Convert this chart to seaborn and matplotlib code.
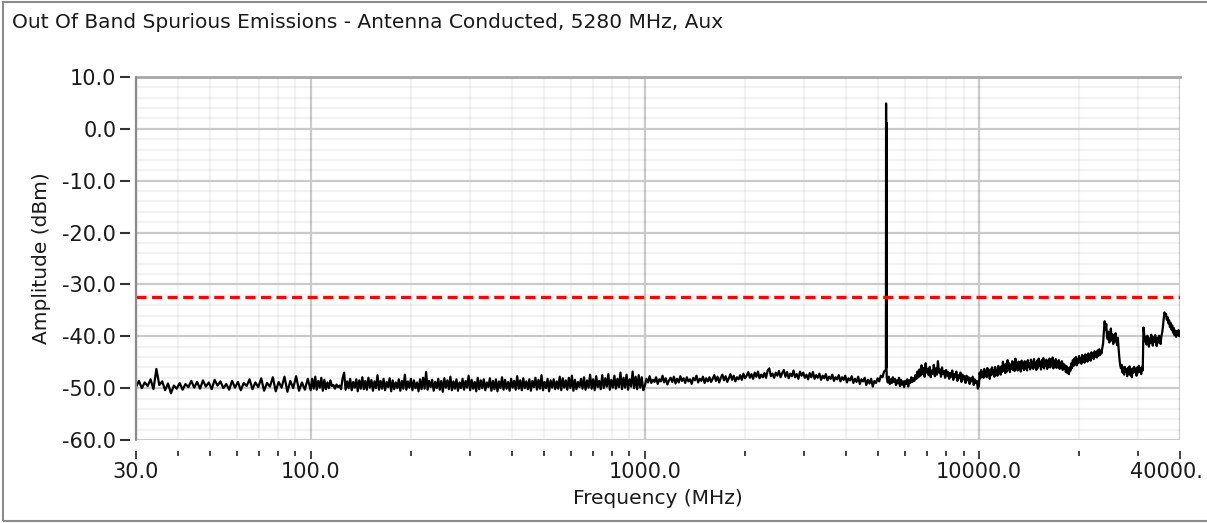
import numpy as np
import pandas as pd
import matplotlib
matplotlib.use("Agg")
import matplotlib.pyplot as plt
import seaborn as sns
from matplotlib.ticker import FixedLocator, FuncFormatter, NullFormatter
from matplotlib.patches import Rectangle
from matplotlib.transforms import ScaledTranslation

# ---- measured trace, split by sweep segment (amplitudes in dBm) ----
amp_30_100 = [
    -49.8, -48.6, -50.0, -48.9, -49.6, -48.3, -50.2, -46.3, -49.4, -48.7,
    -50.4, -49.1, -51.0, -49.5, -50.1, -49.0, -50.3, -49.2, -49.8, -48.6,
    -49.9, -48.8, -50.1, -48.5, -49.7, -48.9, -50.2, -48.4, -49.5, -48.7,
    -50.0, -49.2, -50.3, -48.6, -49.9, -48.8, -50.4, -49.0, -49.6, -48.3,
    -50.2, -48.9, -49.8, -48.1, -50.5, -49.0, -49.7, -47.9, -50.6, -48.8,
    -49.9, -47.8, -50.7, -48.6, -50.0, -47.7, -50.5, -48.9, -50.3, -48.2,
]
amp_100_1000 = [
    -50.4, -48.2, -50.1, -47.8, -50.3, -48.6, -49.9, -48.0, -50.5, -48.4,
    -50.2, -48.9, -50.0, -48.5, -49.6, -49.4, -50.1, -49.3, -49.8, -49.5,
    -50.2, -48.1, -47.0, -50.3, -48.7, -50.0, -48.2, -50.4, -48.8, -49.9,
    -48.3, -50.6, -48.5, -50.1, -47.9, -50.2, -48.6, -50.3, -48.0, -49.9,
    -48.4, -50.5, -48.7, -50.0, -47.5, -50.3, -48.6, -50.1, -48.2, -50.4,
    -48.8, -49.8, -48.1, -50.6, -48.5, -50.2, -48.9, -50.0, -48.3, -50.5,
    -48.6, -50.1, -47.4, -50.3, -48.7, -49.9, -48.2, -50.4, -48.5, -50.0,
    -48.9, -50.6, -48.3, -50.2, -48.0, -50.1, -46.9, -50.3, -48.6, -49.8,
    -48.4, -50.5, -48.8, -50.0, -48.2, -50.3, -48.6, -50.7, -48.1, -49.9,
    -48.5, -50.2, -47.8, -50.4, -48.7, -50.1, -48.3, -50.5, -48.9, -50.0,
    -48.2, -50.3, -48.6, -49.9, -47.6, -50.4, -48.4, -50.1, -48.8, -50.6,
    -48.0, -50.2, -48.5, -50.0, -48.3, -50.4, -48.9, -49.8, -48.1, -50.5,
    -48.6, -50.2, -48.3, -50.6, -48.7, -50.0, -47.9, -50.3, -48.4, -50.1,
    -48.8, -50.5, -48.2, -49.9, -48.6, -50.3, -47.7, -50.1, -48.5, -50.4,
    -48.1, -50.0, -48.7, -50.2, -48.3, -50.5, -48.6, -49.8, -48.0, -50.3,
    -48.4, -50.1, -47.5, -50.4, -48.8, -50.0, -48.2, -50.6, -48.5, -49.9,
    -48.3, -50.2, -48.7, -50.1, -47.8, -50.4, -48.1, -49.9, -48.5, -50.3,
    -48.0, -50.0, -47.6, -50.5, -48.4, -50.2, -48.8, -49.8, -48.2, -50.1,
    -47.9, -50.3, -48.5, -49.9, -47.4, -50.1, -48.3, -50.4, -47.7, -49.8,
    -48.6, -50.2, -47.5, -50.0, -48.1, -49.7, -47.3, -50.3, -48.4, -49.9,
    -47.6, -50.1, -48.2, -49.8, -47.0, -50.2, -48.0, -49.9, -47.4, -50.3,
    -48.3, -49.7, -46.8, -50.0, -47.8, -50.2, -47.5, -49.9, -47.9, -50.4,
]
amp_1000_5260 = [
    -49.6, -48.2, -48.9, -47.7, -49.0, -48.4, -48.8, -47.9, -49.2, -48.3,
    -48.7, -47.6, -48.9, -48.1, -49.3, -48.5, -48.0, -48.8, -47.8, -49.1,
    -48.2, -48.9, -47.7, -48.6, -48.1, -49.0, -47.9, -48.7, -48.3, -49.2,
    -48.0, -48.5, -47.6, -48.9, -48.2, -48.6, -47.8, -49.0, -48.1, -48.7,
    -47.9, -48.8, -48.2, -47.5, -48.6, -47.8, -48.9, -48.0, -47.4, -48.5,
    -47.7, -48.8, -48.1, -47.3, -48.4, -47.6, -48.7, -47.9, -48.3, -47.5,
    -48.4, -47.2, -48.1, -47.6, -46.9, -48.0, -47.3, -48.2, -47.0, -47.8,
    -46.8, -48.1, -47.4, -47.9, -47.1, -48.0, -46.6, -46.2, -47.7, -47.2,
    -48.0, -47.0, -47.6, -46.7, -47.9, -47.1, -46.5, -47.8, -46.9, -48.1,
    -47.2, -47.7, -46.6, -47.9, -47.3, -48.2, -46.8, -47.6, -47.0, -48.0,
    -47.4, -48.3, -47.1, -47.9, -46.9, -48.2, -47.5, -48.0, -47.2, -48.4,
    -47.6, -48.1, -47.3, -48.5, -47.8, -48.2, -47.4, -48.6, -47.9, -48.3,
    -47.5, -48.7, -47.9, -48.4, -47.6, -48.9, -48.1, -48.5, -47.7, -49.0,
    -48.2, -48.8, -47.8, -49.2, -48.3, -48.7, -48.0, -49.4, -48.4, -49.1,
    -48.2, -49.7, -48.6, -49.0, -48.1, -48.7, -47.6, -47.9, -46.8, -46.5,
]
carrier_freqs = [5270, 5276, 5279, 5282, 5285, 5288, 5292, 5298]
carrier_amps = [-46.4, 4.9, -46.0, 1.2, -46.0, 1.2, -46.5, -47.0]
amp_5300_10000 = [
    -48.0, -48.9, -47.8, -49.2, -48.3, -49.0, -47.9, -48.8, -48.2, -49.4,
    -48.5, -49.1, -48.0, -49.6, -48.4, -49.3, -48.7, -49.8, -48.6, -49.2,
    -48.3, -49.7, -48.5, -49.0, -47.9, -48.8, -48.1, -48.6, -47.5, -48.2,
    -46.8, -47.9, -46.4, -47.6, -45.6, -47.3, -46.1, -47.8, -45.2, -47.0,
    -46.3, -47.5, -45.9, -47.9, -46.6, -47.2, -45.5, -47.7, -46.2, -47.4,
    -44.8, -47.0, -46.4, -47.8, -46.0, -47.3, -46.7, -48.0, -46.5, -47.6,
    -46.9, -48.2, -47.1, -47.8, -46.6, -48.4, -47.3, -47.9, -46.8, -48.6,
    -47.5, -48.1, -47.0, -48.8, -47.4, -48.3, -47.7, -49.0, -47.6, -48.5,
    -47.9, -49.2, -48.1, -48.7, -47.8, -49.4, -48.3, -49.0, -48.6, -50.1,
]
amp_10000_40000 = [
    -49.7, -47.0, -48.1, -46.5, -47.8, -46.9, -48.0, -46.3, -47.6, -46.8,
    -47.9, -46.1, -47.4, -46.7, -48.2, -46.4, -47.5, -46.0, -47.3, -46.6,
    -47.8, -45.9, -47.2, -46.5, -47.6, -45.7, -47.0, -46.3, -47.4, -45.8,
    -46.9, -44.9, -46.6, -45.5, -47.1, -45.3, -46.8, -44.6, -46.4, -45.2,
    -46.9, -45.6, -46.2, -44.8, -46.5, -45.1, -46.7, -44.3, -46.0, -45.4,
    -46.6, -44.9, -46.3, -45.0, -46.8, -44.7, -46.1, -45.3, -46.5, -44.8,
    -46.2, -45.0, -46.6, -44.6, -45.9, -45.2, -46.4, -44.5, -46.0, -44.9,
    -46.3, -44.4, -45.8, -45.1, -46.5, -44.7, -46.1, -44.3, -45.7, -45.0,
    -46.4, -44.6, -45.9, -44.2, -46.2, -44.8, -45.6, -44.5, -46.3, -44.9,
    -45.8, -44.3, -46.0, -44.7, -45.5, -44.1, -46.2, -44.8, -45.7, -44.4,
    -46.1, -44.9, -45.8, -44.6, -46.3, -45.1, -46.0, -44.8, -46.5, -45.3,
    -46.2, -45.6, -46.9, -45.8, -47.1, -46.2, -47.3, -46.0, -46.6, -45.2,
    -46.1, -44.6, -45.7, -44.3, -45.4, -44.0, -45.6, -44.4, -45.2, -43.8,
    -45.0, -44.2, -45.3, -43.6, -44.8, -43.9, -45.1, -43.5, -44.6, -43.7,
    -44.9, -43.3, -44.5, -43.6, -44.7, -43.1, -44.2, -43.4, -44.4, -42.9,
    -43.9, -43.2, -44.1, -42.7, -43.8, -42.5, -43.6, -42.8, -43.3, -42.2,
    -41.4, -39.0, -37.1, -38.8, -37.6, -39.9, -40.6, -39.1, -41.2, -40.0,
    -38.5, -40.8, -39.6, -41.5, -40.2, -41.0, -39.4, -40.9, -41.7, -40.3,
    -42.5, -44.3, -45.6, -46.2, -45.5, -47.0, -46.0, -47.4, -45.9, -46.8,
    -46.3, -47.7, -46.1, -47.2, -45.8, -47.5, -46.4, -47.9, -46.2, -47.1,
    -45.9, -46.8, -46.3, -47.6, -46.0, -47.0, -45.7, -46.9, -46.2, -47.3,
    -45.9, -46.6, -38.3, -39.8, -41.0, -40.1, -41.6, -39.9, -40.7, -42.0,
    -40.4, -41.3, -39.7, -40.9, -41.8, -40.2, -41.1, -39.8, -40.6, -41.9,
    -40.3, -41.2, -39.9, -40.8, -41.5, -40.0, -39.3, -38.2, -36.6, -35.4,
    -36.1, -35.7, -36.8, -36.3, -37.5, -36.9, -38.2, -37.4, -38.7, -37.9,
    -39.3, -38.4, -39.8, -38.9, -40.1, -39.0, -39.7, -38.8, -40.0, -39.4,
]

limit_dbm = -32.4

title = "Out Of Band Spurious Emissions - Antenna Conducted, 5280 MHz, Aux"
x_label = "Frequency (MHz)"
y_label = "Amplitude (dBm)"

x_major = [30, 100, 1000, 10000, 40000]
x_major_labels = ["30.0", "100.0", "1000.0", "10000.0", "40000."]
x_minor = [40, 50, 60, 70, 80, 90,
           200, 300, 400, 500, 600, 700, 800, 900,
           2000, 3000, 4000, 5000, 6000, 7000, 8000, 9000,
           20000, 30000]
y_major = [10, 0, -10, -20, -30, -40, -50, -60]

# ---- assemble the sweep: log-spaced frequency bins per segment ----
freq_parts, amp_parts = [], []
for lo, hi, vals, end in [(30, 100, amp_30_100, False),
                          (100, 1000, amp_100_1000, False),
                          (1000, 5262, amp_1000_5260, True)]:
    freq_parts.append(np.geomspace(lo, hi, len(vals), endpoint=end))
    amp_parts.append(np.asarray(vals))
freq_parts.append(np.asarray(carrier_freqs, dtype=float))
amp_parts.append(np.asarray(carrier_amps))
for lo, hi, vals, end in [(5300, 10000, amp_5300_10000, False),
                          (10000, 40000, amp_10000_40000, True)]:
    freq_parts.append(np.geomspace(lo, hi, len(vals), endpoint=end))
    amp_parts.append(np.asarray(vals))

trace = pd.DataFrame({
    x_label: np.concatenate(freq_parts),
    y_label: np.concatenate(amp_parts),
})

# ---- styling ----
sns.set_theme(style="white")
plt.rcParams["font.family"] = ["DejaVu Sans"]
plt.rcParams["lines.scale_dashes"] = False
FS_TICK = 15
FS_LABEL = 14.5
TXT = "#1a1a1a"

W, H = 1207, 523
fig = plt.figure(figsize=(W / 100, H / 100), dpi=100)
fig.patch.set_facecolor("white")
ax = fig.add_axes([136 / W, 1 - 440 / H, (1180 - 136) / W, (440 - 77) / H])
ax.set_facecolor("white")
ax.set_xscale("log")

sns.lineplot(data=trace, x=x_label, y=y_label, ax=ax, color="black",
             linewidth=1.6, estimator=None, sort=False, zorder=3)
ax.axhline(limit_dbm, color="#ff0000", linewidth=2.3, dashes=(7.2, 4.0),
           zorder=4)

ax.set_xlim(30, 40000)
ax.set_ylim(-60, 10)

ax.xaxis.set_major_locator(FixedLocator(x_major))
ax.xaxis.set_minor_locator(FixedLocator(x_minor))
ax.xaxis.set_major_formatter(
    FuncFormatter(lambda v, p: x_major_labels[x_major.index(int(round(v)))]))
ax.xaxis.set_minor_formatter(NullFormatter())
ax.yaxis.set_major_locator(FixedLocator(y_major))
ax.yaxis.set_minor_locator(FixedLocator(np.arange(-58, 10, 2)))
ax.yaxis.set_major_formatter(FuncFormatter(lambda v, p: f"{v:.1f}"))

# faint translucent minor grid so it never breaks the major lines
ax.grid(which="minor", color=(0, 0, 0, 0.05), linewidth=1.5)
ax.grid(which="major", color="#cacaca", linewidth=1.6)

for side in ("right", "bottom", "left"):
    ax.spines[side].set_color("none")
ax.spines["top"].set_color("#a8a8a8")
ax.spines["top"].set_linewidth(2.0)
ax.spines["bottom"].set_position(("outward", 8))
ax.spines["left"].set_position(("outward", 4))
ax.axvline(30, color="#8a8a8a", linewidth=1.6, clip_on=False, zorder=5)

ax.tick_params(axis="x", which="major", direction="out", length=6.0,
               width=1.2, color="#222222", labelsize=FS_TICK, labelcolor=TXT,
               pad=2, bottom=True)
ax.tick_params(axis="x", which="minor", direction="out", length=3.6,
               width=1.2, color="#222222", bottom=True)
ax.tick_params(axis="y", which="major", direction="out", length=7.2,
               width=1.5, color="#333333", labelsize=FS_TICK, labelcolor=TXT,
               pad=3, left=True)
ax.tick_params(axis="y", which="minor", left=False)

# the last frequency label sits against the right edge of the window
last = ax.xaxis.get_major_ticks()[-1].label1
last.set_transform(last.get_transform()
                   + ScaledTranslation(-14 / 100, 0, fig.dpi_scale_trans))

ax.set_xlabel(x_label, fontsize=FS_LABEL, color=TXT)
ax.xaxis.label.set_verticalalignment("center")
ax.xaxis.set_label_coords(0.5, (440 - 499) / (440 - 77))
ax.set_ylabel(y_label, fontsize=FS_LABEL, color=TXT)
ax.yaxis.label.set_verticalalignment("center")
ax.yaxis.label.set_horizontalalignment("center")
ax.yaxis.set_label_coords((42 - 136) / (1180 - 136), 0.5)

fig.text(12 / W, 1 - 22 / H, title, ha="left", va="center",
         fontsize=FS_LABEL, color=TXT)

# window frame
fig.patches.append(Rectangle((3 / W, 2 / H), 1.2, 1 - 4 / H,
                             transform=fig.transFigure, fill=False,
                             edgecolor="#8c8c8c", linewidth=1.5))

fig.savefig("out.png", dpi=100, facecolor="white")
